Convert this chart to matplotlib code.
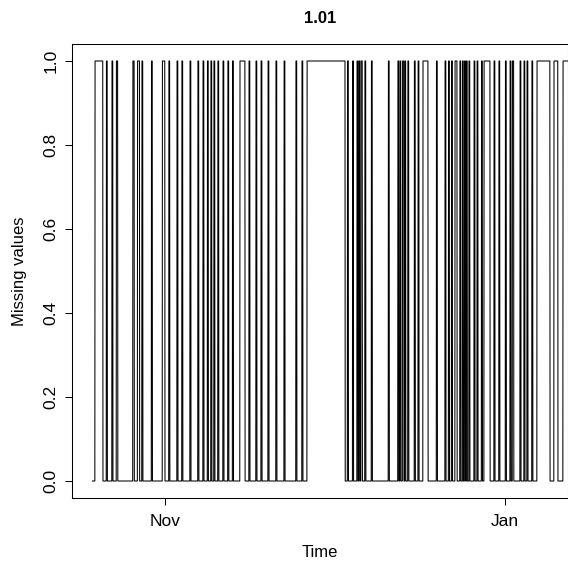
import numpy as np
import pandas as pd
import matplotlib
matplotlib.use("Agg")
import matplotlib.pyplot as plt

plt.rcParams['font.family'] = ['Liberation Sans', 'DejaVu Sans']

# hourly record of sensor 1.01
record_start = "2009-10-19 00:00"
record_hours = 2112

# missing stretches: start (days after record start) and length (hours)
gap_day = [0.45, 2.51, 3.50, 4.31, 7.27, 8.07, 8.88, 10.58, 12.56, 13.72,
           15.16, 16.06, 17.49, 18.93, 19.83, 20.63, 21.26, 21.80, 22.52, 23.41,
           24.31, 25.12, 26.46, 28.08, 29.33, 30.23, 31.49, 32.92, 34.36, 36.51,
           37.59, 38.48, 45.75, 46.65, 47.45, 47.81, 48.17, 48.89, 50.05, 53.10,
           54.81, 55.17, 55.62, 56.06, 56.60, 57.77, 58.40, 59.29, 61.71, 63.24,
           63.87, 64.41, 65.03, 65.93, 66.38, 66.74, 67.10, 67.55, 68.44, 68.98,
           69.79, 70.24, 72.03, 72.93, 74.09, 74.90, 75.35, 76.70, 77.41, 77.95,
           78.85, 79.75, 82.80, 84.41]
gap_len = [34, 4, 4, 6, 6, 9, 4, 4, 11, 4,
           4, 4, 4, 4, 4, 4, 4, 4, 4, 4,
           4, 4, 22, 4, 4, 4, 4, 4, 4, 4,
           4, 164, 4, 4, 4, 4, 6, 4, 4, 4,
           4, 4, 6, 4, 4, 4, 4, 22, 4, 4,
           4, 4, 9, 4, 4, 4, 4, 4, 4, 4,
           4, 26, 4, 4, 4, 4, 6, 4, 4, 4,
           4, 56, 17, 28]

times = pd.date_range(record_start, periods=record_hours, freq="h")
missing = np.zeros(record_hours)
for d, n in zip(gap_day, gap_len):
    i = int(round(d * 24))
    missing[i:i + n] = 1

fig = plt.figure(figsize=(5.68, 5.61), dpi=100)
ax = fig.add_axes([72 / 568, 63.2 / 561, 496 / 568, 453.6 / 561])

ax.plot(times, missing, color="black", lw=0.75)

nov1 = pd.Timestamp("2009-11-01")
ax.set_xlim(nov1 - pd.Timedelta(days=16.68), nov1 + pd.Timedelta(days=72.3))
ax.set_ylim(-0.04, 1.04)

ax.set_xticks([nov1, pd.Timestamp("2010-01-01")])
ax.set_xticklabels(["Nov", "Jan"])
ax.set_yticks(np.arange(0, 1.01, 0.2))
ax.set_yticklabels([f"{v:.1f}" for v in np.arange(0, 1.01, 0.2)],
                   rotation=90, va="center")

ax.tick_params(direction="out", length=5, width=0.75, labelsize=12.5,
               colors="black")
ax.tick_params(axis="x", pad=6.5)
ax.tick_params(axis="y", pad=4.5)
for s in ax.spines.values():
    s.set_linewidth(0.75)

ax.set_title("1.01", fontweight="bold", fontsize=12, pad=15)
ax.set_xlabel("Time", fontsize=12, labelpad=12)
ax.set_ylabel("Missing values", fontsize=12, labelpad=12)

fig.savefig("out.png", dpi=100)
